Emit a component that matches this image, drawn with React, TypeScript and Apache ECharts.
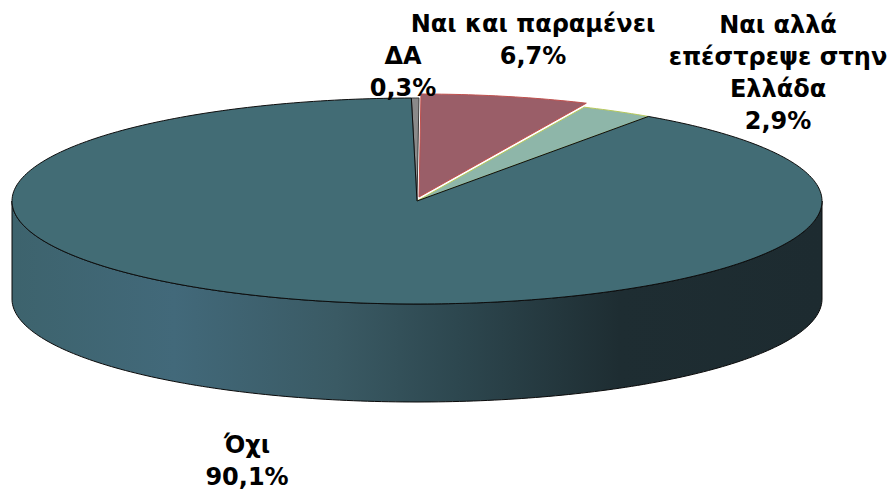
import React, { useEffect, useRef } from 'react';
import * as echarts from 'echarts';

// ---- data ----
const categories = ['ΔΑ', 'Ναι και παραμένει', 'Ναι αλλά\nεπέστρεψε στην\nΕλλάδα', 'Όχι'];
const values = [0.3, 6.7, 2.9, 90.1];

// ---- styles / layout ----
const sliceColors = ['#8a8a8a', '#9a5e68', '#8eb6a9', '#426c75'];
const edgeColors = ['#3a3a3a', '#c0504d', '#b7c85a', '#0d0d0d'];
const sliceShift = [
  [0, 0],
  [2, -4],
  [0, 0],
  [0, 0],
];
const labelPos = [
  [403, 40],
  [533, 8],
  [778, 9],
  [247, 429],
];
const CX = 417;
const CY = 201;
const RX = 405;
const RY = 103;
const DEPTH = 98;
const START_DEG = -0.8;

const fmt = (v: number) => v.toFixed(1).replace('.', ',') + '%';

function pt(theta: number, dy = 0): number[] {
  return [CX + RX * Math.sin(theta), CY - RY * Math.cos(theta) + dy];
}

function arcPoints(a0: number, a1: number, dy = 0): number[][] {
  const n = Math.max(2, Math.ceil(((a1 - a0) * 180) / Math.PI));
  const out: number[][] = [];
  for (let k = 0; k <= n; k++) out.push(pt(a0 + ((a1 - a0) * k) / n, dy));
  return out;
}

export default function App() {
  const ref = useRef<HTMLDivElement>(null);
  useEffect(() => {
    if (!ref.current) return;
    const chart = echarts.init(ref.current, null, { renderer: 'svg' });
    const total = values.reduce((a, b) => a + b, 0);
    const starts: number[] = [];
    const ends: number[] = [];
    let acc = (START_DEG * Math.PI) / 180;
    values.forEach((v) => {
      starts.push(acc);
      acc += (v / total) * Math.PI * 2;
      ends.push(acc);
    });

    const sideGradient = {
      type: 'linear',
      x: CX - RX,
      y: 0,
      x2: CX + RX,
      y2: 0,
      global: true,
      colorStops: [
        { offset: 0, color: '#3d636d' },
        { offset: 0.2, color: '#42697a' },
        { offset: 0.4, color: '#3a5a64' },
        { offset: 0.55, color: '#2d474f' },
        { offset: 0.75, color: '#1e2d32' },
        { offset: 1, color: '#1d2b30' },
      ],
    };

    const option: any = {
      animation: false,
      series: [
        {
          type: 'custom',
          coordinateSystem: 'none',
          data: values.map((v, i) => ({ name: categories[i], value: v })),
          renderItem: (params: any) => {
            const i = params.dataIndex;
            const a0 = starts[i];
            const a1 = ends[i];
            const [sx, sy] = sliceShift[i];
            const children: any[] = [];
            // front side wall (visible between 90° and 270°)
            const s = Math.max(a0, Math.PI / 2);
            const e = Math.min(a1, (3 * Math.PI) / 2);
            if (e > s) {
              const topArc = arcPoints(s, e);
              const botArc = arcPoints(s, e, DEPTH).reverse();
              children.push({
                type: 'polygon',
                z2: 1,
                shape: { points: topArc.concat(botArc) },
                style: { fill: sideGradient, stroke: '#0a0a0a', lineWidth: 1 },
              });
            }
            // top face
            const pts = [[CX, CY]]
              .concat(arcPoints(a0, a1))
              .map((p) => [p[0] + sx, p[1] + sy]);
            children.push({
              type: 'polygon',
              z2: i === 1 ? 3 : 2,
              shape: { points: pts },
              style: {
                fill: sliceColors[i],
                stroke: edgeColors[i],
                lineWidth: 1,
                lineJoin: 'round',
              },
            });
            // label
            children.push({
              type: 'text',
              z2: 5,
              x: labelPos[i][0],
              y: labelPos[i][1],
              style: {
                text: categories[i] + '\n' + fmt(values[i]),
                fill: '#000000',
                font: 'bold 24px "DejaVu Sans"',
                align: 'center',
                verticalAlign: 'top',
                lineHeight: 32,
              },
            });
            return { type: 'group', children };
          },
        },
      ],
    };
    chart.setOption(option);
    return () => chart.dispose();
  }, []);
  return (
    <div
      ref={ref}
      style={{ position: 'fixed', left: 0, top: 0, width: 896, height: 493, background: '#ffffff' }}
    />
  );
}
